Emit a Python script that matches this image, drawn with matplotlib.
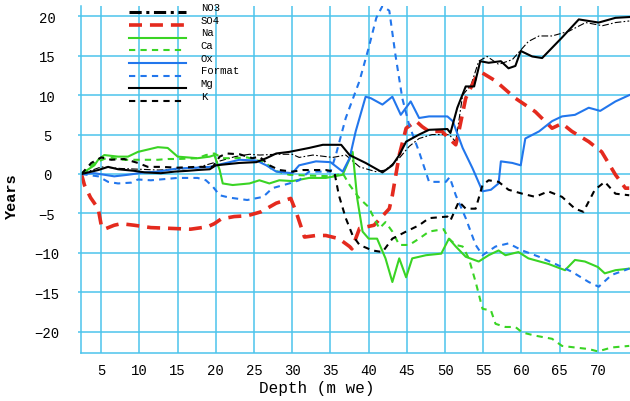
import matplotlib
matplotlib.use("Agg")
import matplotlib.pyplot as plt
from matplotlib.lines import Line2D
from matplotlib.transforms import ScaledTranslation

plt.rcParams['font.family'] = ['Liberation Mono', 'DejaVu Sans Mono']

# depth (m we) and age offset (years)
no3_x = [2.4, 5, 7.5, 10, 12.5, 15, 17.5, 20, 22.5, 24.4, 25.7, 27.9, 30, 30.9, 32.7, 35.3, 37, 38.8,
         40.9, 42.2, 44, 45.3, 46.6, 48.3, 50.5, 51.4, 52.3, 53.4, 54.4, 55.5, 57, 58.8, 60.9, 62.3,
         64, 66.2, 68.4, 70.6, 72.3, 74.1]
no3_y = [0, 0.9, 0.7, 0.6, 0.5, 0.6, 0.8, 1.5, 2.2, 2.5, 2.4, 2.5, 2.5, 2.1, 2.4, 2.1, 2.4, 0.9,
         0.3, 0.5, 2.0, 3.5, 4.5, 5.0, 5.0, 4.1, 10, 11.3, 14.3, 14.9, 13.9, 14.5, 16.8, 17.5,
         17.5, 18.1, 19.2, 18.8, 19.2, 19.4]

so4_x = [2.4, 2.8, 3.6, 4.6, 5.0, 5.4, 6.7, 7.6, 9.3, 11.5, 14.1, 16.7, 18.9, 19.8, 20.7, 22.4, 24.1,
         25.9, 27.9, 29.8, 30.5, 31.6, 33.1, 34.4, 36.1, 37.5, 37.8, 38.8, 40.7, 42.7, 43.1, 44.0,
         44.9, 46.2, 47.0, 47.9, 49.6, 50.5, 51.4, 51.8, 52.7, 54.0, 54.9, 56.6, 59.2, 61.8, 64.0,
         65.3, 66.6, 68.8, 70.5, 72.3, 73.6, 74.1]
so4_y = [0, -1.4, -3.0, -4.4, -6.5, -7.0, -6.5, -6.3, -6.5, -6.8, -6.9, -7.0, -6.7, -6.3, -5.7, -5.4, -5.3,
         -4.8, -3.7, -3.1, -4.8, -8.0, -7.8, -7.8, -8.2, -9.2, -9.5, -6.9, -6.5, -4.4, -2.7, 2.4,
         5.8, 6.7, 6.0, 5.4, 5.4, 4.5, 3.7, 5.4, 9.6, 12.2, 12.8, 11.8, 9.6, 7.9, 5.8,
         6.4, 5.4, 4.1, 2.8, -0.1, -1.8, -1.8]

na_x = [2.4, 4.1, 4.6, 5.4, 7.2, 8.5, 9.8, 12.4, 13.7, 15, 17.6, 19.2, 19.8, 20.5, 20.9, 22.2, 24.4,
        25.7, 27.0, 28.3, 30, 32.2, 34.4, 36.6, 37.9, 38.5, 39.2, 40, 41.1, 42.2, 43.1, 44, 44.9,
        45.7, 47.5, 49.5, 50.5, 51.4, 52.7, 54.4, 55.7, 57, 57.9, 59.6, 60.9, 63.5, 65.7, 67,
        68.3, 70, 70.9, 72.3, 74.1]
na_y = [0, 1.1, 1.8, 2.4, 2.2, 2.2, 2.8, 3.4, 3.3, 2.2, 2.0, 2.2, 2.4, 0.5, -1.2, -1.4, -1.2,
        -0.8, -1.2, -0.8, -0.9, -0.5, -0.5, -0.1, 2.8, -3.1, -7.3, -8.2, -8.2, -10.7, -13.7, -10.7, -13.1,
        -10.7, -10.3, -10.1, -8.2, -9.2, -10.5, -11.1, -10.3, -9.7, -10.3, -9.9, -10.7, -11.4, -12.2, -10.9,
        -11.1, -11.8, -12.6, -12.2, -12.0]

ca_x = [2.4, 4.1, 5.9, 8, 10, 12.4, 13.7, 15, 17.6, 18.7, 19.8, 20.9, 22.4, 24.1, 25.9, 26.6, 27.4,
        29.6, 32.2, 35.3, 36.6, 37.5, 38.8, 40, 40.7, 41.4, 42.2, 43.1, 44, 45.3, 46.6, 47.9, 49.8,
        50.5, 51.4, 52.3, 53.1, 54, 54.9, 56, 56.6, 57.9, 59.2, 60.1, 61.8, 64, 65.3, 67, 68.8,
        70, 71.8, 74.1]
ca_y = [0, 1.4, 2.1, 1.8, 1.8, 1.8, 1.9, 1.9, 2.0, 2.4, 2.6, 2.0, 2.0, 2.1, 1.6, 1.4, 0.5,
        -0.1, -0.2, -0.3, 0.1, -1.4, -3.1, -4.2, -5.6, -6.9, -6.1, -7.3, -9.0, -9.0, -8.2, -7.3, -7.0,
        -8.2, -9.0, -9.2, -10.7, -13.7, -17.1, -17.3, -19.0, -19.4, -19.4, -20.1, -20.5, -20.9, -21.8, -22.0, -22.2,
        -22.5, -22.0, -21.8]

ox_x = [2.4, 4.1, 5.4, 6.7, 8.5, 10.7, 12.4, 15, 17.6, 19.2, 20.5, 23.1, 25.3, 26.6, 27.9, 30, 30.9,
        33.1, 35, 36.6, 37.5, 38.3, 39.6, 40.3, 41.8, 43.1, 44.2, 45.5, 46.6, 47.9, 50.3, 51, 52.3,
        53.6, 54.9, 56, 57, 57.3, 58.8, 59.9, 60.5, 62.3, 64, 65.3, 67, 68.8, 70.3, 72.3, 74.1]
ox_y = [0, 0.1, -0.1, -0.3, -0.1, 0.2, 0.3, 0.7, 0.8, 0.9, 1.2, 1.8, 1.7, 1.1, 0.3, 0.1, 1.1,
        1.6, 1.5, 0.3, 2.0, 5.4, 9.8, 9.6, 8.8, 9.8, 7.5, 9.2, 7.1, 7.3, 7.3, 6.7, 3.3,
        0.7, -2.2, -2.0, -1.2, 1.6, 1.4, 1.1, 4.5, 5.4, 6.7, 7.3, 7.5, 8.4, 8.0, 9.2, 10.0]

fmt_x = [2.4, 4.6, 5.9, 7.2, 8.9, 9.8, 11.5, 15, 17.6, 18.7, 19.6, 20.5, 21.8, 24.1, 26.2, 27.4, 29.6,
         30.9, 32.2, 35, 35.7, 37, 38.8, 40, 41, 41.8, 42.7, 43.5, 44.4, 45.3, 46.6, 47.9, 50.1,
         50.6, 51.4, 52.7, 54, 54.9, 56.6, 58.3, 60.1, 62.3, 64.4, 66.6, 68.8, 70.1, 71.8, 74.1]
fmt_y = [0, -0.3, -1.0, -1.2, -1.1, -0.7, -0.8, -0.5, -0.5, -0.8, -1.6, -2.7, -3.0, -3.3, -2.9, -1.8, -1.2,
         -0.8, 0.3, 0.3, 2.4, 7.1, 11.8, 16.0, 19.8, 21.3, 20.7, 15.1, 9.6, 6.2, 2.8, -1.0, -1.0,
         -0.4, -2.7, -5.6, -9.0, -10.3, -9.2, -8.8, -9.7, -10.5, -11.4, -12.4, -13.7, -14.3, -12.8, -12.0]

mg_x = [2.4, 4.6, 5.9, 7.2, 9.3, 10.7, 12.8, 14.6, 16.3, 17.6, 19.2, 20, 23.1, 25.3, 26.6, 27.9, 29.6,
        32.2, 34, 36.4, 37.5, 39.6, 41.8, 43.1, 44, 44.9, 46.6, 47.9, 50.3, 50.7, 51.6, 52.7, 53.8,
        54.6, 55.7, 57.3, 58.3, 59.2, 59.9, 61.4, 62.7, 65.3, 67.5, 70.1, 72.3, 74.1]
mg_y = [0, 0.5, 0.9, 0.6, 0.4, 0.2, 0.1, 0.3, 0.4, 0.5, 0.6, 1.1, 1.4, 1.5, 2.0, 2.6, 2.8,
        3.3, 3.7, 3.7, 2.4, 1.4, 0.2, 1.1, 2.4, 4.1, 5.0, 5.6, 5.7, 5.2, 8.4, 11.1, 11.1,
        14.3, 14.1, 14.3, 13.4, 13.7, 15.6, 14.9, 14.7, 17.3, 19.6, 19.2, 19.8, 19.9]

k_x = [2.4, 3.7, 5, 6.3, 8, 9.8, 11.1, 12.8, 15, 17.5, 19.6, 20.5, 21.4, 23.1, 24.8, 25.7, 27,
       28.3, 30, 31.4, 34.4, 35.5, 36.1, 37, 37.9, 38.8, 40.5, 41.8, 43.1, 44.9, 46.6, 47.9, 50.3,
       50.7, 51.8, 52.7, 54, 54.9, 55.7, 57, 58.3, 60.1, 61.8, 63.5, 65.3, 67, 68.1, 69.6, 70.9,
       72.3, 74.1]
k_y = [0, 1.4, 2.1, 1.8, 1.9, 1.4, 0.9, 0.9, 0.8, 0.9, 0.9, 2.2, 2.6, 2.5, 2.0, 2.2, 1.1,
       0.5, 0.3, 0.5, 0.5, 0.3, -2.7, -5.6, -7.8, -9.0, -9.7, -9.9, -8.2, -7.3, -6.5, -5.6, -5.4,
       -5.9, -3.5, -4.4, -4.4, -1.4, -0.8, -1.0, -2.0, -2.5, -2.9, -2.2, -2.9, -4.4, -4.8, -2.0, -1.0,
       -2.5, -2.7]

xticks = [5, 10, 15, 20, 25, 30, 35, 40, 45, 50, 55, 60, 65, 70]
yticks = [-20, -15, -10, -5, 0, 5, 10, 15, 20]

grid_c = '#4cc4ec'
red = '#e42a1e'
green = '#3ad424'
blue = '#2276ec'

fig = plt.figure(figsize=(6.3, 4.02), dpi=100)
ax = fig.add_axes([81/630, 48/402, 1 - 81/630, (354 - 7)/402])

ax.plot(no3_x, no3_y, color='black', lw=0.8, ls=(0, (6, 2, 1.5, 2)))
ax.plot(so4_x, so4_y, color=red, lw=2.6, ls=(0, (3.6, 2.2)))
ax.plot(na_x, na_y, color=green, lw=1.5)
ax.plot(ca_x, ca_y, color=green, lw=1.5, ls=(0, (3, 2.5)))
ax.plot(ox_x, ox_y, color=blue, lw=1.5)
ax.plot(fmt_x, fmt_y, color=blue, lw=1.5, ls=(0, (3, 2.5)))
ax.plot(mg_x, mg_y, color='black', lw=1.5)
ax.plot(k_x, k_y, color='black', lw=1.5, ls=(0, (3, 2.5)))

ax.set_xlim(2.35, 74.2)
ax.set_ylim(-22.7, 21.3)
ax.set_xticks(xticks)
ax.set_yticks(yticks)
ax.grid(True, color=grid_c, lw=1.1)
ax.set_axisbelow(True)
for s in ['top', 'right']:
    ax.spines[s].set_visible(False)
for s in ['left', 'bottom']:
    ax.spines[s].set_color(grid_c)
    ax.spines[s].set_linewidth(1.1)
ax.tick_params(axis='y', length=2.5, width=1.1, color=grid_c, labelsize=10, pad=22)
ax.tick_params(axis='x', length=0, labelsize=10, pad=7)
for lab in ax.get_yticklabels():
    lab.set_horizontalalignment('center')

fig.text(12/630, 1 - 196/402, 'Years', rotation=90, ha='center', va='center',
         fontsize=11, fontweight='bold')
fig.text(317/630, 1 - 389/402, 'Depth (m we)', ha='center', va='center', fontsize=11.5)

names = ['NO3', 'SO4', 'Na', 'Ca', 'Ox', 'Format', 'Mg', 'K']
handles = [
    Line2D([], [], color='black', lw=2.2, ls=(0, (4, 1.5, 1, 1.5))),
    Line2D([], [], color=red, lw=2.6, ls=(0, (3.6, 2.2))),
    Line2D([], [], color=green, lw=1.5),
    Line2D([], [], color=green, lw=1.5, ls=(0, (3, 2.5))),
    Line2D([], [], color=blue, lw=1.5),
    Line2D([], [], color=blue, lw=1.5, ls=(0, (3, 2.5))),
    Line2D([], [], color='black', lw=1.5),
    Line2D([], [], color='black', lw=1.5, ls=(0, (3, 2.5))),
]
leg = ax.legend(handles, names, loc='upper left', bbox_to_anchor=(129/630, 1 - 9/402),
                bbox_transform=fig.transFigure, frameon=False, fontsize=7.7,
                handlelength=5.3, handletextpad=1.4, labelspacing=0.25, borderpad=0, borderaxespad=0)
for t in leg.get_texts():
    t.set_transform(t.get_transform() + ScaledTranslation(0, 4.3/72, fig.dpi_scale_trans))

fig.savefig('out.png', dpi=100)
